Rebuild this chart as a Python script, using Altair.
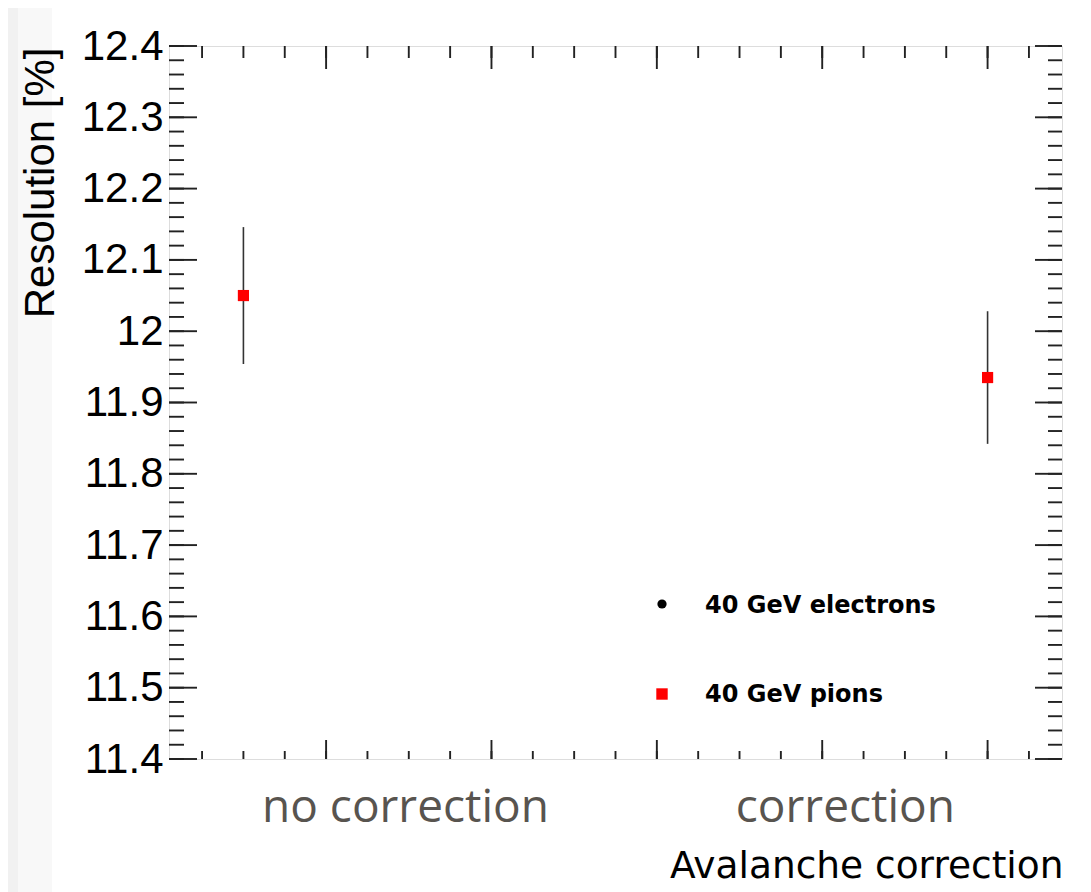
import altair as alt
import pandas as pd

# ---- data ----
x_pos = [0.5, 5.0]                 # position of the two settings on the x axis
resolution = [12.05, 11.935]       # resolution [%] for 40 GeV pions
res_err = [0.096, 0.093]           # error bars

cat_labels = ["no correction", "correction"]
cat_label_x = [1.48, 4.14]

y_major = [11.4, 11.5, 11.6, 11.7, 11.8, 11.9, 12.0, 12.1, 12.2, 12.3, 12.4]
y_minor = [round(11.4 + 0.02 * i, 2) for i in range(51)]
x_major = [1, 2, 3, 4, 5]
x_minor = [0.25 * i for i in range(1, 22)]

legend_labels = ["40 GeV electrons", "40 GeV pions"]

W, H = 893, 713
XDOM = [0.05, 5.45]
YDOM = [11.4, 12.4]

xscale = alt.Scale(domain=XDOM, nice=False, zero=False)
yscale = alt.Scale(domain=YDOM, nice=False, zero=False)

xaxis = alt.Axis(title="Avalanche correction", labels=False, ticks=False, domain=False,
                 grid=False, titleFont="DejaVu Sans", titleFontSize=37.5,
                 titleFontWeight="normal", titleColor="black", titleAlign="right",
                 titleBaseline="alphabetic", titleX=W + 1, titleY=118, zindex=2)
yaxis = alt.Axis(title="Resolution [%]", values=y_major, format="~g", ticks=False,
                 tickSize=0, domain=False, grid=False, labelFont="Liberation Sans",
                 labelFontSize=42, labelColor="black", labelPadding=6,
                 labelBaseline="middle", labelFlush=False, labelOverlap=False,
                 titleFont="Liberation Sans", titleFontSize=42, titleFontWeight="normal",
                 titleColor="black", titleAngle=270, titleAlign="right",
                 titleBaseline="alphabetic", titleX=-116, titleY=1, zindex=2)

pts = pd.DataFrame({"x": x_pos, "y": resolution, "err": res_err})
pts["lo"] = pts["y"] - pts["err"]
pts["hi"] = pts["y"] + pts["err"]

X = alt.X("x:Q", scale=xscale, axis=xaxis)
Y = alt.Y("y:Q", scale=yscale, axis=yaxis)

base = alt.Chart(pts)
errbars = base.mark_rule(color="#333333", strokeWidth=1.6).encode(
    x=X, y=alt.Y("lo:Q", scale=yscale, axis=yaxis), y2="hi:Q")
squares = base.mark_square(size=125, color="#ff0000", opacity=1, filled=True).encode(x=X, y=Y)

tick_color = "#222222"
tw = 1.9
ymaj = alt.Chart(pd.DataFrame({"y": y_major}))
ymin = alt.Chart(pd.DataFrame({"y": y_minor}))
xmaj = alt.Chart(pd.DataFrame({"x": x_major}))
xmin = alt.Chart(pd.DataFrame({"x": x_minor}))

ticks = [
    ymaj.mark_rule(color=tick_color, strokeWidth=tw).encode(y=Y, x=alt.value(0), x2=alt.value(28)),
    ymaj.mark_rule(color=tick_color, strokeWidth=tw).encode(y=Y, x=alt.value(W - 27), x2=alt.value(W)),
    ymin.mark_rule(color=tick_color, strokeWidth=tw).encode(y=Y, x=alt.value(0), x2=alt.value(15)),
    ymin.mark_rule(color=tick_color, strokeWidth=tw).encode(y=Y, x=alt.value(W - 14), x2=alt.value(W)),
    xmaj.mark_rule(color=tick_color, strokeWidth=tw).encode(x=X, y=alt.value(0), y2=alt.value(23)),
    xmin.mark_rule(color=tick_color, strokeWidth=tw).encode(x=X, y=alt.value(0), y2=alt.value(12)),
    xmaj.mark_rule(color=tick_color, strokeWidth=tw).encode(x=X, y=alt.value(H - 19), y2=alt.value(H)),
    xmin.mark_rule(color=tick_color, strokeWidth=tw).encode(x=X, y=alt.value(H - 8), y2=alt.value(H)),
]

# light strip at the far left of the picture
strip_df = pd.DataFrame({"a": [0]})
strips = [
    alt.Chart(strip_df).mark_rect(color="#f1f1f1").encode(
        x=alt.value(-161), x2=alt.value(-151), y=alt.value(-38), y2=alt.value(H + 133)),
    alt.Chart(strip_df).mark_rect(color="#f8f8f8").encode(
        x=alt.value(-151), x2=alt.value(-117), y=alt.value(-38), y2=alt.value(H + 133)),
]

cats = alt.Chart(pd.DataFrame({"x": cat_label_x, "t": cat_labels})).mark_text(
    font="Open Sans", fontSize=46, color="#58544f", align="center", baseline="alphabetic"
).encode(x=X, y=alt.value(H + 63), text="t:N")

# legend drawn inside the frame
leg_e_marker = alt.Chart(strip_df).mark_circle(size=85, color="black", opacity=1).encode(
    x=alt.value(493), y=alt.value(558))
leg_p_marker = alt.Chart(strip_df).mark_square(size=130, color="#ff0000", opacity=1).encode(
    x=alt.value(493), y=alt.value(648))
leg_e_text = alt.Chart(pd.DataFrame({"t": [legend_labels[0]]})).mark_text(
    font="DejaVu Sans", fontSize=24, fontWeight="bold", color="black", align="left",
    baseline="alphabetic").encode(x=alt.value(536), y=alt.value(567), text="t:N")
leg_p_text = alt.Chart(pd.DataFrame({"t": [legend_labels[1]]})).mark_text(
    font="DejaVu Sans", fontSize=24, fontWeight="bold", color="black", align="left",
    baseline="alphabetic").encode(x=alt.value(536), y=alt.value(656), text="t:N")

chart = alt.layer(
    *strips, errbars, squares, *ticks, cats,
    leg_e_marker, leg_p_marker, leg_e_text, leg_p_text
).properties(
    width=W, height=H,
    autosize=alt.AutoSizeParams(type="none"),
    padding={"left": 161, "top": 38, "right": 20, "bottom": 133},
).configure_view(stroke="#111111", strokeWidth=1.8).configure(background="white")

chart.save("out.html", embed_options={"renderer": "svg", "actions": False})
